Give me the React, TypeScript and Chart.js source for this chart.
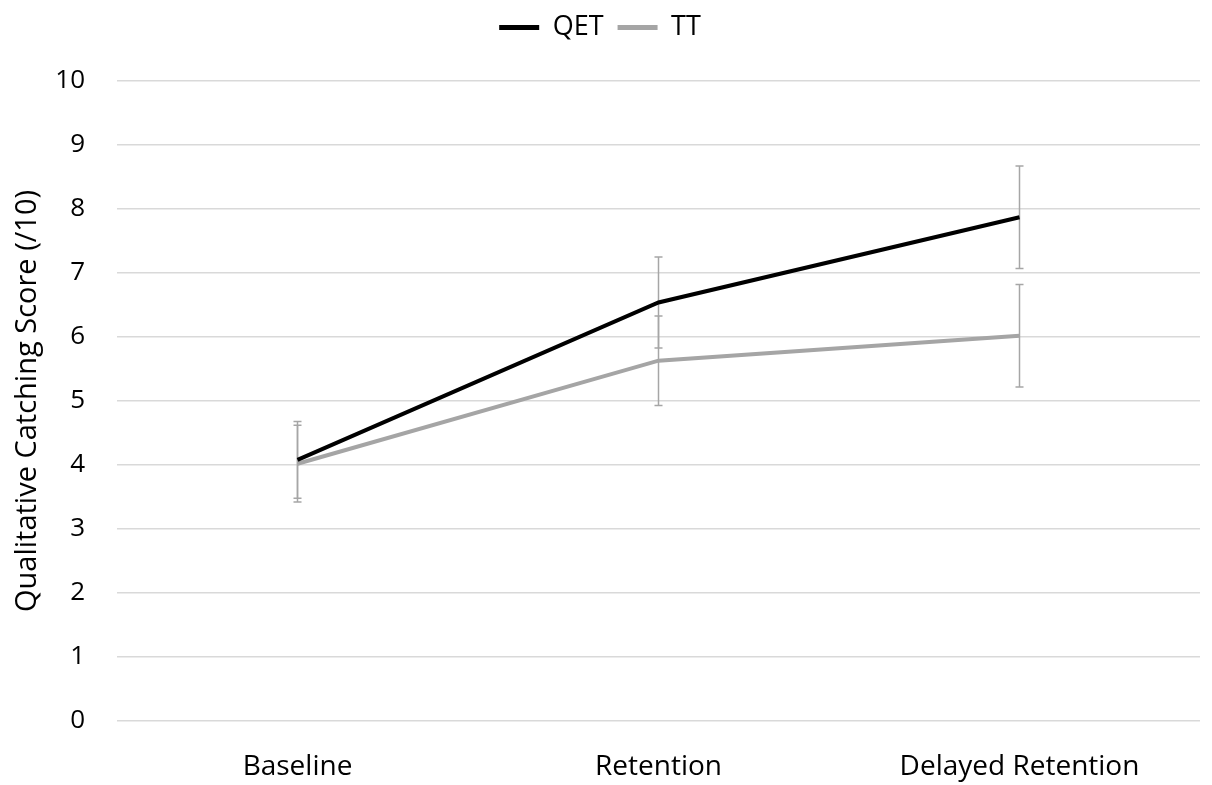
import React, { useEffect, useRef } from "react";
import { Chart, registerables } from "chart.js";

Chart.register(...registerables);

const categories = ["Baseline", "Retention", "Delayed Retention"];
const qetValues = [4.08, 6.54, 7.87];
const qetErrors = [0.6, 0.71, 0.8];
const ttValues = [4.02, 5.63, 6.02];
const ttErrors = [0.6, 0.7, 0.8];
const yTicks = [0, 1, 2, 3, 4, 5, 6, 7, 8, 9, 10];

const FONT = "'Open Sans', 'Noto Sans', sans-serif";

const errorBarPlugin = {
  id: "errorBars",
  beforeDatasetsDraw(chart: any) {
    const ctx = chart.ctx;
    const yScale = chart.scales.y;
    chart.data.datasets.forEach((ds: any, di: number) => {
      const meta = chart.getDatasetMeta(di);
      const errs: number[] = ds.errors || [];
      meta.data.forEach((pt: any, i: number) => {
        const v = ds.data[i];
        const e = errs[i];
        if (e == null) return;
        const x = pt.x;
        const yTop = yScale.getPixelForValue(v + e);
        const yBot = yScale.getPixelForValue(v - e);
        ctx.save();
        ctx.strokeStyle = "#a6a6a6";
        ctx.lineWidth = 1.5;
        ctx.beginPath();
        ctx.moveTo(x, yTop);
        ctx.lineTo(x, yBot);
        ctx.moveTo(x - 4, yTop);
        ctx.lineTo(x + 4, yTop);
        ctx.moveTo(x - 4, yBot);
        ctx.lineTo(x + 4, yBot);
        ctx.stroke();
        ctx.restore();
      });
    });
  },
};

const legendSpacePlugin = {
  id: "legendSpace",
  beforeInit(chart: any) {
    const legend = chart.legend;
    if (!legend) return;
    const origFit = legend.fit;
    legend.fit = function () {
      origFit.call(this);
      this.height += 30;
    };
  },
};

export default function App() {
  const ref = useRef<HTMLCanvasElement | null>(null);
  useEffect(() => {
    document.body.style.margin = "0";
    const canvas = ref.current;
    if (!canvas) return;
    const chart = new Chart(canvas, {
      type: "line",
      data: {
        labels: categories,
        datasets: [
          {
            label: "QET",
            data: qetValues,
            errors: qetErrors,
            borderColor: "#000000",
            backgroundColor: "#000000",
            borderWidth: 4,
            pointRadius: 0,
            tension: 0,
          } as any,
          {
            label: "TT",
            data: ttValues,
            errors: ttErrors,
            borderColor: "#a5a5a5",
            backgroundColor: "#a5a5a5",
            borderWidth: 4,
            pointRadius: 0,
            tension: 0,
          } as any,
        ],
      },
      options: {
        responsive: false,
        animation: false,
        layout: { padding: { top: 0, right: 12, left: 0, bottom: 0 } },
        plugins: {
          legend: {
            position: "top",
            labels: {
              usePointStyle: true,
              pointStyle: "line",
              pointStyleWidth: 40,
              boxWidth: 40,
              padding: 14,
              color: "#000",
              font: { family: FONT, size: 27 },
              generateLabels(chart: any) {
                return chart.data.datasets.map((ds: any, i: number) => ({
                  text: ds.label,
                  strokeStyle: ds.borderColor,
                  fillStyle: ds.borderColor,
                  lineWidth: 5,
                  pointStyle: "line",
                  datasetIndex: i,
                  hidden: false,
                  fontColor: "#000",
                }));
              },
            },
          },
          tooltip: { enabled: false },
        },
        scales: {
          x: {
            offset: true,
            grid: { display: false, drawTicks: false },
            border: { display: false },
            afterFit(scale: any) {
              scale.height = 64;
            },
            ticks: {
              color: "#000",
              padding: 29,
              font: { family: FONT, size: 28 },
            },
          },
          y: {
            min: 0,
            max: 10,
            afterBuildTicks(axis: any) {
              axis.ticks = yTicks.map((v) => ({ value: v }));
            },
            afterFit(scale: any) {
              scale.width = 117;
            },
            grid: { color: "#d9d9d9", lineWidth: 1.5, drawTicks: false },
            border: { display: false },
            ticks: {
              color: "#000",
              padding: 32,
              font: { family: FONT, size: 26 },
            },
            title: {
              display: true,
              text: "Qualitative Catching Score (/10)",
              color: "#000",
              font: { family: FONT, size: 29 },
              padding: { top: 10, bottom: 0 },
            },
          },
        },
      },
      plugins: [errorBarPlugin, legendSpacePlugin],
    } as any);
    return () => chart.destroy();
  }, []);
  return (
    <div style={{ width: 1212, height: 785 }}>
      <canvas ref={ref} width={1212} height={785} style={{ display: "block" }} />
    </div>
  );
}
